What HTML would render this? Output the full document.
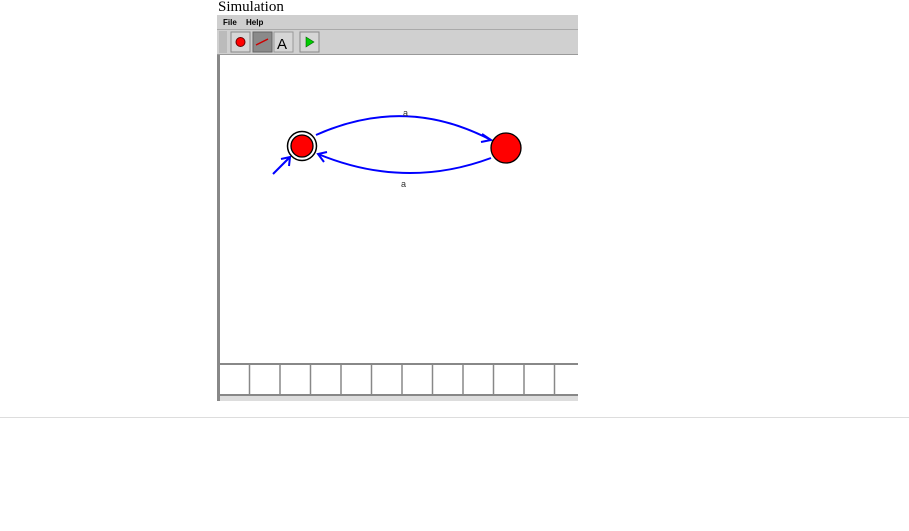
<!DOCTYPE html>
<html><head><meta charset="utf-8"><style>
body{margin:0;width:909px;height:531px;background:#fff;position:relative;overflow:hidden;font-family:"Liberation Sans",sans-serif}
.a{position:absolute}
</style></head><body>
<div class="a" style="left:218px;top:-1px;font:15px 'Liberation Serif',serif;color:#000">Simulation</div>
<svg class="a" style="left:0;top:0" width="909" height="531">
<rect x="217" y="15" width="361" height="386" fill="#d0d0d0"/>
<rect x="217" y="15" width="361" height="14" fill="#cfcfcf"/>
<text x="223" y="25" font-size="8" font-weight="bold" font-family="Liberation Sans">File</text>
<text x="246" y="25" font-size="8" font-weight="bold" font-family="Liberation Sans">Help</text>
<line x1="217" y1="29.5" x2="578" y2="29.5" stroke="#aaa"/>
<rect x="219" y="31" width="8" height="22" fill="#bbb"/>
<rect x="231" y="32" width="19" height="20" fill="#d6d6d6" stroke="#888"/>
<circle cx="240.5" cy="42" r="4.5" fill="red" stroke="#600"/>
<rect x="253" y="32" width="19" height="20" fill="#8a8a8a" stroke="#666"/>
<line x1="256" y1="45" x2="268" y2="39" stroke="#c00" stroke-width="1.5"/>
<rect x="274" y="32" width="19" height="20" fill="#d6d6d6" stroke="#999"/>
<text x="277" y="49" font-size="15" font-family="Liberation Sans">A</text>
<rect x="300" y="32" width="19" height="20" fill="#d6d6d6" stroke="#888"/>
<polygon points="306,37 306,47 314,42" fill="#0c0" stroke="#060" stroke-width="0.6"/>
<line x1="217" y1="54.5" x2="578" y2="54.5" stroke="#999"/>
<rect x="220" y="55" width="358" height="309" fill="#fff"/>
<rect x="217" y="55" width="3" height="346" fill="#888"/>
<g fill="none" stroke="#00f" stroke-width="2">
<path d="M316,135 Q405,95 491,140"/>
<path d="M482,134 L491,140 L481,142" />
<path d="M491,158 Q405,190 318,154"/>
<path d="M327,152 L318,154 L324,162"/>
<path d="M273,174 L290,157"/>
<path d="M281,159 L290,157 L289,166"/>
</g>
<text x="403" y="116" font-size="9" fill="#333" font-family="Liberation Sans">a</text>
<text x="401" y="187" font-size="9" fill="#333" font-family="Liberation Sans">a</text>
<circle cx="302" cy="146" r="14.5" fill="#fff" stroke="#000" stroke-width="1.5"/>
<circle cx="302" cy="146" r="11" fill="red" stroke="#000" stroke-width="1.3"/>
<circle cx="506" cy="148" r="15" fill="red" stroke="#000" stroke-width="1.3"/>
<g>
<rect x="220" y="364" width="358" height="31" fill="#fff"/>
<line x1="220" y1="364" x2="578" y2="364" stroke="#888" stroke-width="2"/>
<line x1="220" y1="395" x2="578" y2="395" stroke="#888" stroke-width="2"/>
<g stroke="#888" stroke-width="1.5">
<line x1="249.5" y1="364" x2="249.5" y2="395"/><line x1="280" y1="364" x2="280" y2="395"/><line x1="310.5" y1="364" x2="310.5" y2="395"/><line x1="341" y1="364" x2="341" y2="395"/><line x1="371.5" y1="364" x2="371.5" y2="395"/><line x1="402" y1="364" x2="402" y2="395"/><line x1="432.5" y1="364" x2="432.5" y2="395"/><line x1="463" y1="364" x2="463" y2="395"/><line x1="493.5" y1="364" x2="493.5" y2="395"/><line x1="524" y1="364" x2="524" y2="395"/><line x1="554.5" y1="364" x2="554.5" y2="395"/>
</g></g>
<rect x="220" y="396" width="358" height="5" fill="#ddd"/>
<line x1="0" y1="417.5" x2="909" y2="417.5" stroke="#ddd"/>
</svg>
</body></html>
